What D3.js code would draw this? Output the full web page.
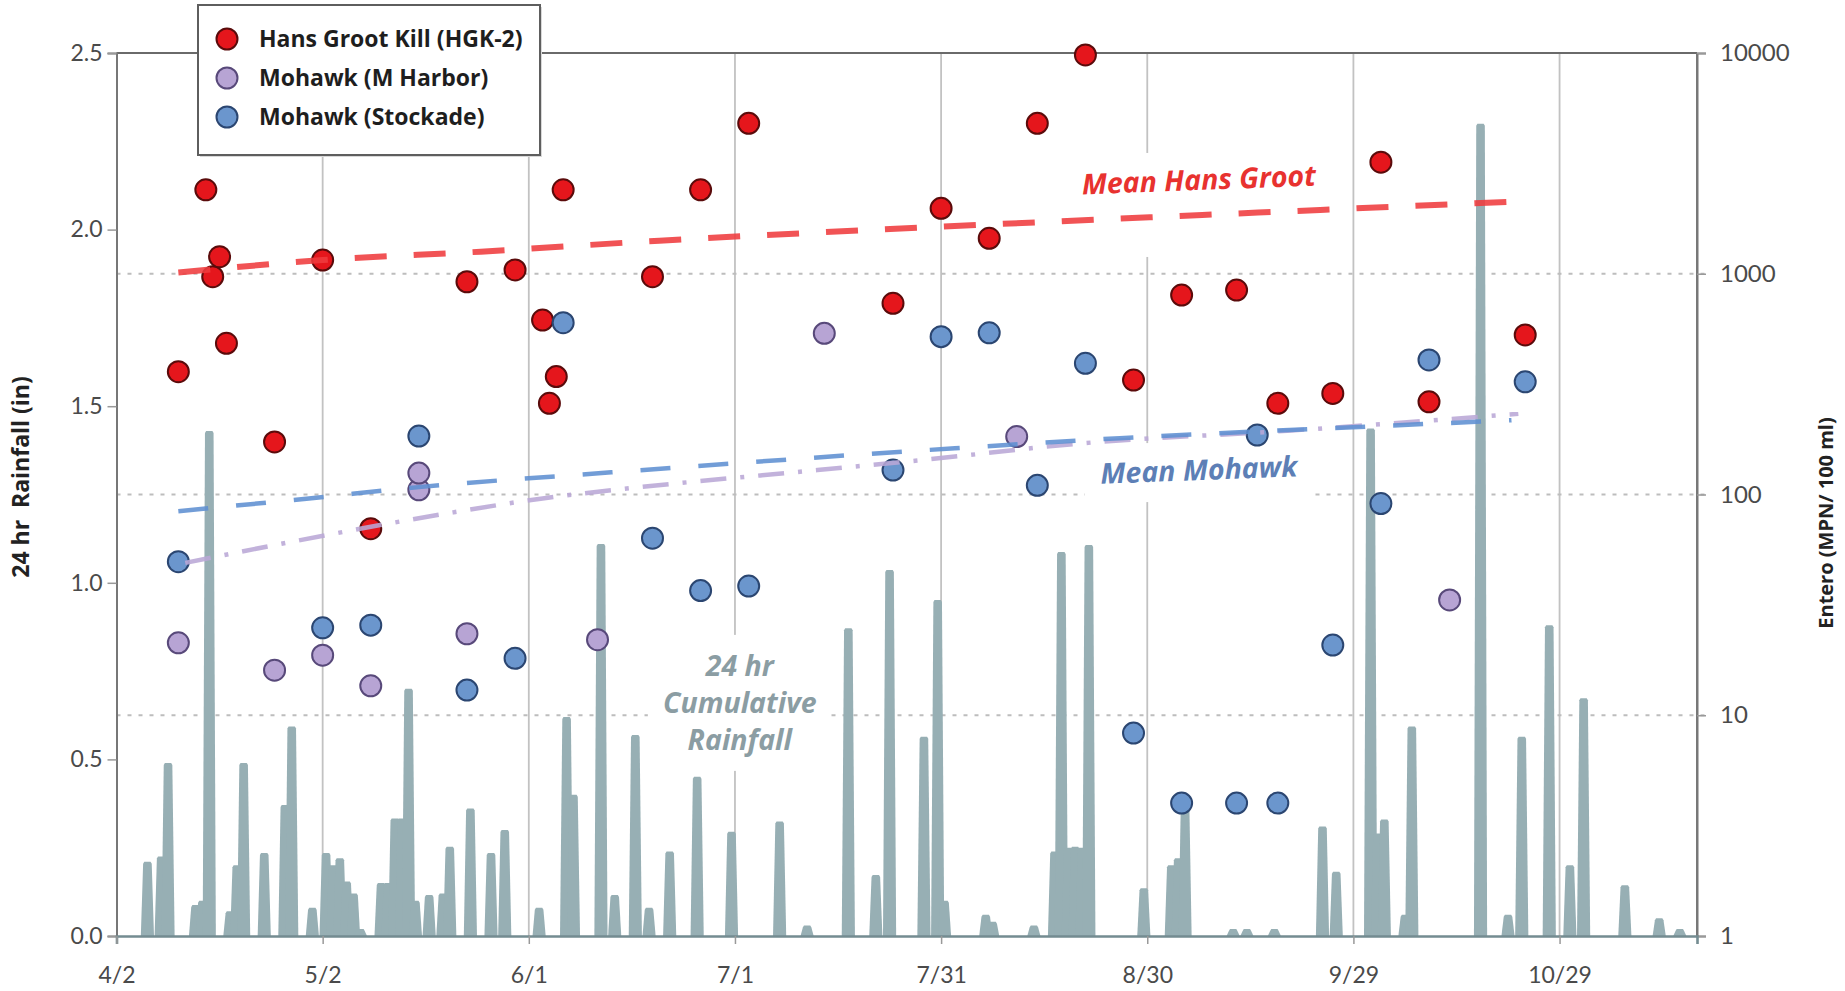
<!DOCTYPE html>
<html>
<head>
<meta charset="utf-8">
<script src="https://cdn.jsdelivr.net/npm/d3@7"></script>
<style>
  html, body { margin: 0; padding: 0; background: #fff; }
  svg { display: block; font-family: Lato, "Open Sans", sans-serif; }
</style>
</head>
<body>
<svg id="chart" width="1845" height="991"></svg>
<script>
// ---- data ----------------------------------------------------------------
const YEAR = 2012;
const dateTicks = ["4/2", "5/2", "6/1", "7/1", "7/31", "8/30", "9/29", "10/29"];
const rainTicks = [0, 0.5, 1.0, 1.5, 2.0, 2.5];
const enteroTicks = [1, 10, 100, 1000, 10000];
const enteroGuides = [10, 100, 1000];

// Hans Groot Kill (HGK-2), Entero MPN/100 ml
const hgkDates = ["4/11","4/15","4/16","4/17","4/18","4/25","5/2","5/9","5/23","5/30",
  "6/3","6/4","6/5","6/6","6/19","6/26","7/3","7/24","7/31","8/7","8/14","8/21","8/28",
  "9/4","9/12","9/18","9/26","10/3","10/10","10/24"];
const hgkValues = [360, 2400, 970, 1195, 484, 173, 1154, 70, 920, 1040,
  617, 259, 342, 2400, 970, 2400, 4800, 735, 1978, 1448, 4800, 9800, 330,
  801, 844, 259, 287, 3200, 263, 528];

// Mohawk (M Harbor)
const harborDates = ["4/11","4/25","5/2","5/9","5/16","5/16","5/23","6/11","7/14","8/11","10/13"];
const harborValues = [21.3, 16.0, 18.7, 13.6, 105, 125, 23.4, 22, 537, 183, 33.3];

// Mohawk (Stockade)
const stockadeDates = ["4/11","5/2","5/9","5/16","5/23","5/30","6/6","6/19","6/26","7/3",
  "7/24","7/31","8/7","8/14","8/21","8/28","9/4","9/12","9/15","9/18","9/26","10/3","10/10","10/24"];
const stockadeValues = [49.6, 24.9, 25.6, 184, 13.0, 18.1, 600, 63.4, 36.7, 38.5,
  129, 519, 540, 110, 393, 8.3, 4.0, 4.0, 186, 4.0, 20.8, 91, 407, 324];

// running means
const hgkMeanDates = ["4/11", "5/2", "5/25", "6/20", "7/31", "9/7", "10/22"];
const hgkMeanValues = [1012, 1154, 1259, 1412, 1634, 1845, 2120];
const stockadeMeanDates = ["4/11", "4/30", "5/16", "6/13", "8/2", "8/26", "10/1", "10/22"];
const stockadeMeanValues = [84, 96, 108, 126, 162, 180, 203, 217];
const harborMeanDates = ["4/12", "4/25", "5/21", "6/3", "6/16", "7/13", "7/28", "8/20", "9/20", "10/23"];
const harborMeanValues = [49, 59, 83, 96, 107, 129, 143, 170, 195, 232];

// 24 hr cumulative rainfall (in)
const rainDates = ["4/6","4/8","4/9","4/13","4/14","4/15","4/18","4/19","4/20","4/23",
  "4/26","4/27","4/30","5/2","5/3","5/4","5/5","5/6","5/7","5/10","5/11","5/12","5/13",
  "5/14","5/15","5/17","5/19","5/20","5/23","5/26","5/28","6/2","6/6","6/7","6/11","6/13",
  "6/16","6/18","6/21","6/25","6/30","7/7","7/11","7/17","7/21","7/23","7/28","7/30","7/31",
  "8/6","8/7","8/13","8/16","8/17","8/18","8/19","8/20","8/21","8/29","9/2","9/3","9/4",
  "9/11","9/13","9/17","9/24","9/26","10/1","10/2","10/3","10/6","10/7","10/17","10/21",
  "10/23","10/27","10/30","11/1","11/7","11/12","11/15"];
const rainValues = [0.21, 0.225, 0.49, 0.088, 0.1, 1.43, 0.07, 0.2, 0.49, 0.235,
  0.371, 0.593, 0.08, 0.235, 0.2, 0.22, 0.154, 0.12, 0.02, 0.15, 0.15, 0.333, 0.333,
  0.70, 0.1, 0.116, 0.12, 0.253, 0.361, 0.235, 0.30, 0.08, 0.62, 0.4, 1.11, 0.116,
  0.569, 0.08, 0.239, 0.451, 0.295, 0.324, 0.03, 0.871, 0.173, 1.036, 0.564, 0.951, 0.1,
  0.06, 0.04, 0.03, 0.239, 1.087, 0.25, 0.253, 0.25, 1.107, 0.135, 0.2, 0.22, 0.376,
  0.02, 0.02, 0.02, 0.31, 0.182, 1.437, 0.29, 0.33, 0.06, 0.593, 2.3, 0.06,
  0.564, 0.88, 0.2, 0.673, 0.144, 0.05, 0.02];

// ---- helpers -------------------------------------------------------------
const md = s => { const [m, d] = s.split("/").map(Number); return new Date(Date.UTC(YEAR, m - 1, d)); };
const pairs = (ds, vs) => ds.map((d, i) => ({ date: md(d), value: vs[i] }));
const OS = "'Open Sans', Lato, sans-serif";

const W = 1845, H = 991;
const M = { left: 116.5, right: 1697, top: 53, bottom: 936 };

const x = d3.scaleUtc().domain([md("4/2"), md("11/18")]).range([M.left, M.right]);
const yRain = d3.scaleLinear().domain([0, 2.5]).range([M.bottom, M.top]);
const yEnt = d3.scaleLog().domain([1, 10000]).range([M.bottom, M.top]);

const svg = d3.select("#chart");
svg.append("rect").attr("width", W).attr("height", H).attr("fill", "#fff");

// ---- grid ----------------------------------------------------------------
const grid = svg.append("g");
grid.selectAll("line.v").data(dateTicks.slice(1)).join("line")
  .attr("x1", d => x(md(d))).attr("x2", d => x(md(d)))
  .attr("y1", M.top).attr("y2", M.bottom)
  .attr("stroke", "#c2c2c2").attr("stroke-width", 1.8);

grid.selectAll("line.h").data(enteroGuides).join("line")
  .attr("x1", M.left).attr("x2", M.right + 10)
  .attr("y1", d => yEnt(d)).attr("y2", d => yEnt(d))
  .attr("stroke", "#bdbdbd").attr("stroke-width", 2.2)
  .attr("stroke-dasharray", "4 7");

// ---- annotation boxes (white backing) ------------------------------------
const notes = [
  { lines: ["Mean Hans Groot"], date: Date.UTC(YEAR, 8, 6, 12), val: 2660, scale: "ent",
    color: "#e8322f", rot: -2.2, box: [-131, -27, 265, 104] },
  { lines: ["Mean Mohawk"], date: Date.UTC(YEAR, 8, 6, 12), val: 129, scale: "ent",
    color: "#5d7fb6", rot: -2.2, box: [-114, -27, 226, 59] },
  { lines: ["24 hr", "Cumulative", "Rainfall"], date: Date.UTC(YEAR, 6, 1, 17), val: 0.66, scale: "rain",
    color: "#8b9da3", rot: 0, box: [-92, -68, 178, 136] }
];
notes.forEach(n => {
  n.cx = x(new Date(n.date));
  n.cy = n.scale === "ent" ? yEnt(n.val) : yRain(n.val);
});
svg.append("g").selectAll("rect").data(notes).join("rect")
  .attr("x", d => d.cx + d.box[0]).attr("y", d => d.cy + d.box[1])
  .attr("width", d => d.box[2]).attr("height", d => d.box[3])
  .attr("fill", "#fff");

// ---- rainfall: one tapered column per day, centred on noon ----------------
const rain = pairs(rainDates, rainValues);
const hr = (d, h) => x(d3.utcHour.offset(d, h));
svg.append("g").selectAll("path").data(rain).join("path")
  .attr("d", d => {
    const y0 = yRain(0), y1 = yRain(d.value);
    return `M${hr(d.date, -11)},${y0}L${hr(d.date, -3)},${y1 + 2}L${hr(d.date, 1)},${y1}` +
           `L${hr(d.date, 23)},${y1}L${hr(d.date, 27)},${y1 + 2}L${hr(d.date, 35)},${y0}Z`;
  })
  .attr("fill", "#97afb4");

// ---- annotation text -----------------------------------------------------
const noteG = svg.append("g");
notes.forEach(n => {
  const t = noteG.append("text")
    .attr("transform", `translate(${n.cx},${n.cy}) rotate(${n.rot})`)
    .attr("text-anchor", "middle")
    .attr("font-family", OS)
    .attr("font-style", "italic").attr("font-weight", 700)
    .attr("font-size", 28.5).attr("fill", n.color);
  const off = (n.lines.length - 1) / 2;
  n.lines.forEach((s, i) => {
    t.append("tspan").attr("x", 0).attr("y", (i - off) * 37).attr("dy", "0.35em").text(s);
  });
});

// ---- frame and axes ------------------------------------------------------
const frame = svg.append("g");
frame.append("line").attr("x1", M.left).attr("x2", M.right).attr("y1", M.top).attr("y2", M.top)
  .attr("stroke", "#6a6a6a").attr("stroke-width", 2.2);
frame.append("line").attr("x1", M.right).attr("x2", M.right).attr("y1", M.top).attr("y2", M.bottom)
  .attr("stroke", "#7a7a7a").attr("stroke-width", 2);

const axL = svg.append("g").attr("transform", `translate(${M.left},0)`)
  .call(d3.axisLeft(yRain).tickValues(rainTicks).tickFormat(d3.format(".1f")).tickSize(9).tickPadding(5));
const axR = svg.append("g").attr("transform", `translate(${M.right},0)`)
  .call(d3.axisRight(yEnt).tickValues(enteroTicks).tickFormat(d3.format("d")).tickSize(9).tickPadding(14));
const axB = svg.append("g").attr("transform", `translate(0,${M.bottom})`)
  .call(d3.axisBottom(x).tickValues(dateTicks.map(md)).tickFormat((d, i) => dateTicks[i]).tickSize(8).tickPadding(23));

[axL, axR, axB].forEach(a => {
  a.select(".domain").attr("stroke", "#777").attr("stroke-width", 2);
  a.selectAll(".tick line").attr("stroke", "#999").attr("stroke-width", 1.5);
  a.selectAll(".tick text").attr("font-size", 23).attr("fill", "#4a4a4a")
    .attr("font-family", "Lato, 'Open Sans', sans-serif");
});
axR.selectAll(".tick text").attr("font-size", 24);
axB.select(".domain").attr("stroke", "#748c91").attr("stroke-width", 2.6);

svg.append("text")
  .attr("transform", `translate(21,477) rotate(-90)`)
  .attr("text-anchor", "middle").attr("dy", "0.35em")
  .attr("font-family", OS).attr("font-weight", 700).attr("font-size", 23).attr("fill", "#222")
  .style("white-space", "pre")
  .text("24 hr  Rainfall (in)");
svg.append("text")
  .attr("transform", `translate(1826,523) rotate(-90)`)
  .attr("text-anchor", "middle").attr("dy", "0.35em")
  .attr("font-family", OS).attr("font-weight", 700).attr("font-size", 20).attr("fill", "#222")
  .text("Entero (MPN/ 100 ml)");

// ---- sample points -------------------------------------------------------
const series = [
  { name: "Hans Groot Kill (HGK-2)", data: pairs(hgkDates, hgkValues), fill: "#e5161c", stroke: "#5a0b0b" },
  { name: "Mohawk (M Harbor)", data: pairs(harborDates, harborValues), fill: "#b7a4d4", stroke: "#58497a" },
  { name: "Mohawk (Stockade)", data: pairs(stockadeDates, stockadeValues), fill: "#6b96cd", stroke: "#2b4671" }
];
series.forEach(s => {
  svg.append("g").selectAll("circle").data(s.data).join("circle")
    .attr("cx", d => x(d.date)).attr("cy", d => yEnt(d.value)).attr("r", 10.5)
    .attr("fill", s.fill).attr("stroke", s.stroke).attr("stroke-width", 2);
});

// ---- mean trend lines ----------------------------------------------------
const line = d3.line().x(d => x(d.date)).y(d => yEnt(d.value)).curve(d3.curveMonotoneX);
const means = [
  { data: pairs(harborMeanDates, harborMeanValues), color: "#b9a7d6", width: 4.5, dash: "26 14 4 14" },
  { data: pairs(stockadeMeanDates, stockadeMeanValues), color: "#5f8fd2", width: 4.5, dash: "30 28" },
  { data: pairs(hgkMeanDates, hgkMeanValues), color: "#ef3b3e", width: 6, dash: "32 27" }
];
svg.append("g").selectAll("path").data(means).join("path")
  .attr("d", d => line(d.data))
  .attr("fill", "none").attr("stroke", d => d.color).attr("stroke-width", d => d.width)
  .attr("stroke-dasharray", d => d.dash).attr("stroke-opacity", 0.88);

// ---- legend --------------------------------------------------------------
const lg = svg.append("g").attr("transform", "translate(198,5)");
lg.append("rect").attr("x", 2).attr("y", 2).attr("width", 342).attr("height", 150)
  .attr("fill", "#d8d8d8");
lg.append("rect").attr("width", 342).attr("height", 150)
  .attr("fill", "#fff").attr("stroke", "#5e5e5e").attr("stroke-width", 2);
series.forEach((s, i) => {
  const row = lg.append("g").attr("transform", `translate(29,${34 + i * 39})`);
  row.append("circle").attr("r", 10.5).attr("fill", s.fill).attr("stroke", s.stroke).attr("stroke-width", 2);
  row.append("text").attr("x", 32).attr("dy", "0.35em")
    .attr("font-family", OS).attr("font-weight", 700).attr("font-size", 23)
    .attr("fill", "#1e1e1e").text(s.name);
});
</script>
</body>
</html>
